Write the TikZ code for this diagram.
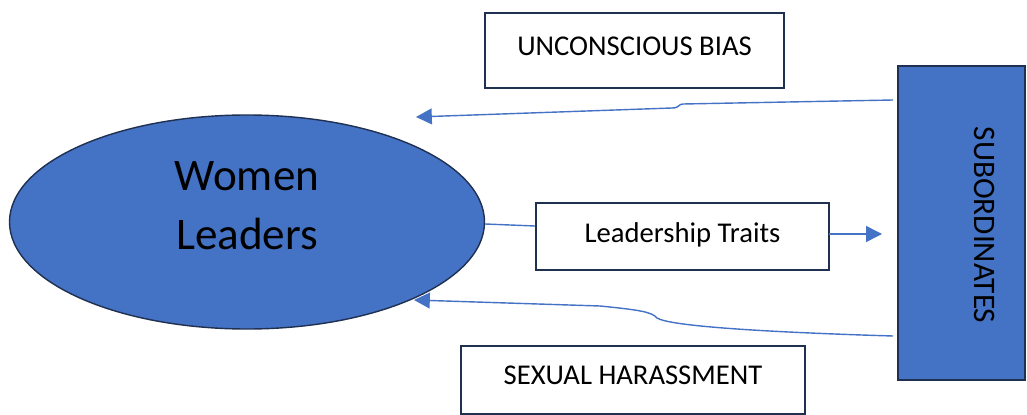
\documentclass[tikz,border=0pt]{standalone}
\usepackage{fontspec}
\setmainfont{Carlito}
\usetikzlibrary{arrows.meta,shapes.geometric}
\definecolor{accent}{HTML}{4472C4}
\definecolor{edge}{HTML}{1F3050}
\tikzset{
  labelbox/.style={draw=edge, line width=1.3pt, fill=white, inner sep=0pt,
    text depth=0.5em, font=\fontsize{16.3}{19}\selectfont},
  flow/.style={draw=accent, line width=0.8pt},
  flowtip/.style={flow, -{Triangle[length=9pt,width=9pt]}},
}
\begin{document}
\begin{tikzpicture}[x=0.02cm,y=-0.02cm]
  \useasboundingbox (0,0) rectangle (1027,415);
  % main actor
  \node (lead) [ellipse, draw=edge, line width=0.8pt, fill=accent,
    minimum width=475*0.02cm, minimum height=214*0.02cm, inner sep=0pt] at (247,222) {};
  \node (leadtxt) [align=center, font=\fontsize{25.7}{33.5}\selectfont] at (247,206) {Women\\Leaders};
  % subordinates block
  \node (sub) [draw=edge, line width=1.3pt, fill=accent,
    minimum width=127*0.02cm, minimum height=314*0.02cm, inner sep=0pt] at (961.5,223) {};
  \node (subtxt) [rotate=-90, font=\fontsize{17.8}{20}\selectfont] at (985,225) {SUBORDINATES};
  % labels
  \node (bias) [labelbox, minimum width=299*0.02cm, minimum height=75*0.02cm] at (634.5,50.5) {UNCONSCIOUS BIAS};
  \node (traits) [labelbox, minimum width=293*0.02cm, minimum height=67*0.02cm] at (682.5,236.5) {Leadership Traits};
  \node (harass) [labelbox, minimum width=344*0.02cm, minimum height=68*0.02cm] at (633,380) {SEXUAL HARASSMENT};
  % connector end points
  \coordinate (topA) at (893,100);
  \coordinate (topB) at (416,117);
  \coordinate (botA) at (893,336);
  \coordinate (botB) at (414,300);
  \coordinate (trStart) at (829,234);
  \coordinate (trEnd) at (882,234);
  % feedback from subordinates
  \draw[flowtip] (topA) -- (683,104) .. controls (678,104) and (680,108) .. (672,108) -- (topB);
  \draw[flowtip] (botA) .. controls (760,332) and (670,326) .. (657,318)
     .. controls (652,312) and (640,310) .. (600,306) -- (botB);
  % traits flow
  \draw[flow] (lead.east) ++(0,2) -- (traits.west |- 0,226);
  \draw[flowtip] (trStart) -- (trEnd);
\end{tikzpicture}
\end{document}
